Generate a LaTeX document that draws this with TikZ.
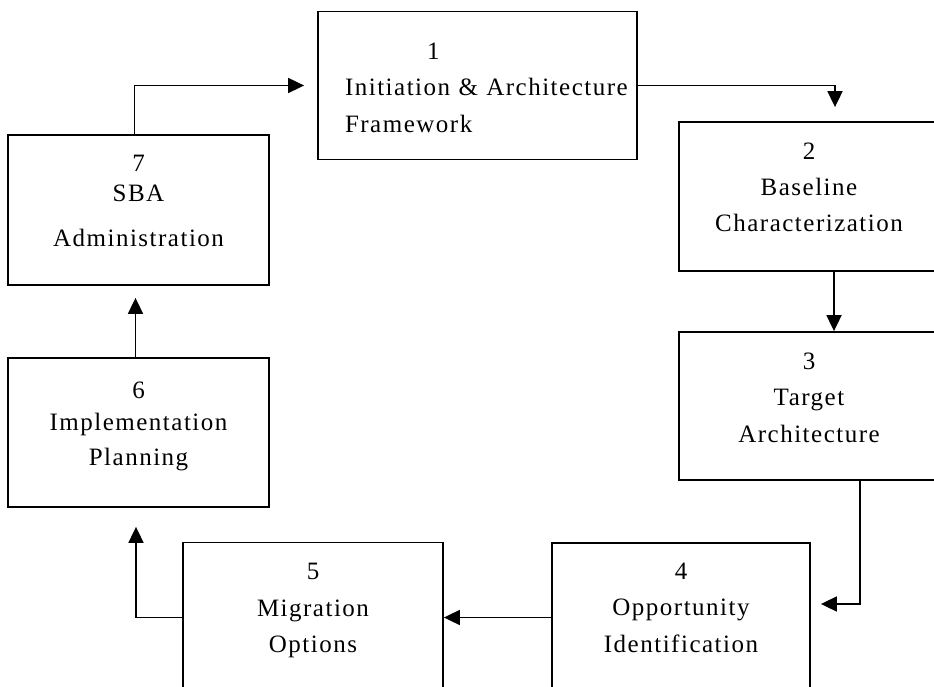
\documentclass[tikz,border=0pt]{standalone}
\usepackage{fontspec}
\setmainfont{Liberation Serif}[LetterSpace=6]
\usetikzlibrary{arrows.meta}
\tikzset{
  bx/.style={draw, line width=1.8pt, inner sep=0pt, align=center,
    minimum height=149pt, minimum width=260pt,
    font=\fontsize{25}{36.5}\selectfont},
  conn/.style={line width=1.8pt, -{Triangle[length=16pt,width=15pt]}},
}
\newcommand{\tp}[1]{\rule{0pt}{#1pt}}
\newcommand{\bt}[1]{\rule[-#1pt]{0pt}{#1pt}}
\begin{document}
\begin{tikzpicture}[x=1pt,y=-1pt]
\useasboundingbox (0,0) rectangle (934,687);
\clip (0,0) rectangle (934,687);
% boxes
\node[bx, align=left, text width=265pt, minimum width=319pt, minimum height=147pt] (b1) at (477.5,85.5)
  {\tp{48}\hspace*{82pt}1\\ \mbox{Initiation \& Architecture}\\ Framework\bt{27}};
\node[bx] (b2) at (809,196.5) {\tp{36}2\\ Baseline\\ Characterization\bt{38}};
\node[bx, minimum height=148pt] (b3) at (809,406) {\tp{36}3\\ Target\\ Architecture\bt{37}};
\node[bx, minimum width=258pt] (b4) at (681,617.5) {\tp{35}4\\ Opportunity\\ Identification\bt{39}};
\node[bx] (b5) at (313,617.5) {\tp{37}5\\ Migration\\ Options\bt{40}};
\node[bx, minimum width=261pt] (b6) at (138.5,432.5) {\tp{40}6\\[-4.5pt] Implementation\\[-1.5pt] Planning\bt{42}};
\node[bx, minimum width=261pt, minimum height=150pt] (b7) at (138.5,210) {\tp{37}7\\[-6.5pt] SBA\\[8.5pt] Administration\bt{38}};
% connectors
\draw[conn, shorten >=14pt] (b1.east) -| ([xshift=26pt]b2.north);
\draw[conn] ([xshift=25pt]b2.south) -- ([xshift=25pt]b3.north);
\draw[conn, shorten >=10pt] ([xshift=51pt]b3.south) |- ([yshift=13.5pt]b4.east);
\draw[conn] (b4.west) -- (b5.east);
\draw[conn, shorten >=19pt] (b5.west) -| ([xshift=-2.5pt]b6.south);
\draw[conn, shorten >=12pt] ([xshift=-3pt]b6.north) -- ([xshift=-3pt]b7.south);
\draw[conn, shorten >=13pt] ([xshift=-4pt]b7.north) |- (b1.west);
\end{tikzpicture}
\end{document}
